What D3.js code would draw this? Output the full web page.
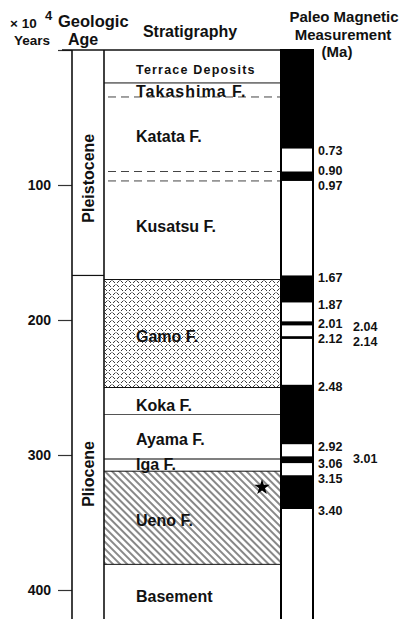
<!DOCTYPE html>
<html>
<head>
    <meta charset="utf-8" />
    <title>Stratigraphy column</title>
    <script src="https://cdn.jsdelivr.net/npm/d3@7"></script>
    <style>
        body { margin: 0; background: #fff; }
        text { font-family: "Liberation Sans", Arial, sans-serif; font-weight: bold; fill: #111; }
    </style>
</head>
<body>
<script>
    // axis ticks (x 10^4 years)
    var yearTicks = [0, 100, 200, 300, 400];

    // geologic age
    var epochs = ["Pleistocene", "Pliocene"];
    var epochTop = [0, 1.67];
    var epochBase = [1.67, 4.3];
    var epochLabelAt = [0.95, 3.14];

    // stratigraphy (Ma)
    var formations = ["Terrace Deposits", "Takashima F.", "Katata F.", "Kusatsu F.", "Gamo F.",
                      "Koka F.", "Ayama F.", "Iga  F.", "Ueno  F.", "Basement"];
    var formationTop = [0, 0.244, 0.348, 0.97, 1.70, 2.50, 2.70, 3.03, 3.12, 3.81];
    var formationBase = [0.244, 0.348, 0.90, 1.70, 2.50, 2.70, 3.03, 3.12, 3.81, 4.3];
    var formationLabelAt = [0.178, 0.348, 0.679, 1.346, 2.161, 2.672, 2.926, 3.111, 3.524, 4.089];
    var formationFill = ["none", "none", "none", "none", "gamo", "none", "none", "none", "ueno", "none"];
    var dashedAt = [0.348, 0.90, 0.97];
    var starAt = 3.24;

    // paleomagnetic polarity, normal (black) intervals (Ma)
    var normalTop = [0, 0.90, 1.67, 2.01, 2.12, 2.48, 3.01, 3.15];
    var normalBase = [0.73, 0.97, 1.87, 2.04, 2.14, 2.92, 3.06, 3.40];
    var magLabels = [0.73, 0.90, 0.97, 1.67, 1.87, 2.01, 2.04, 2.12, 2.14, 2.48, 2.92, 3.01, 3.06, 3.15, 3.40];
    var magLabelOuter = [0, 0, 0, 0, 0, 0, 1, 0, 1, 0, 0, 1, 0, 0, 0];

    var width = 406, height = 619;
    var ageX0 = 72, ageX1 = 104, stratX1 = 281, magX1 = 313;

    var y = d3.scaleLinear().domain([0, 400]).range([50, 590]);
    function ma(v) { return y(v * 100); }

    var svg = d3.select("body").append("svg")
        .attr("width", width)
        .attr("height", height);

    var defs = svg.append("defs");

    var gamo = defs.append("pattern")
        .attr("id", "gamo")
        .attr("patternUnits", "userSpaceOnUse")
        .attr("width", 8).attr("height", 8);
    gamo.append("path")
        .attr("d", "M0.5,0.5 L3,3 M5,3 L7.5,0.5 M4.5,4.5 L7,7 M1,7 L3.5,4.5")
        .attr("stroke", "#222").attr("stroke-width", 0.9).attr("fill", "none");

    var ueno = defs.append("pattern")
        .attr("id", "ueno")
        .attr("patternUnits", "userSpaceOnUse")
        .attr("width", 5).attr("height", 10)
        .attr("patternTransform", "rotate(-45)");
    ueno.append("line")
        .attr("x1", 1).attr("y1", 0).attr("x2", 1).attr("y2", 10)
        .attr("stroke", "#111").attr("stroke-width", 1);

    // headers
    svg.append("text").attr("x", 10).attr("y", 28).style("font-size", "13.5px").text("\u00d7 10");
    svg.append("text").attr("x", 45).attr("y", 20).style("font-size", "13px").text("4");
    svg.append("text").attr("x", 14).attr("y", 45).style("font-size", "13.5px").text("Years");
    svg.append("text").attr("x", 58).attr("y", 27).style("font-size", "16.5px").text("Geologic");
    svg.append("text").attr("x", 68).attr("y", 45).style("font-size", "16px").text("Age");
    svg.append("text").attr("x", 190).attr("y", 37).attr("text-anchor", "middle")
        .style("font-size", "16px").text("Stratigraphy");
    svg.append("text").attr("x", 344).attr("y", 22).attr("text-anchor", "middle")
        .style("font-size", "15px").text("Paleo Magnetic");
    svg.append("text").attr("x", 343).attr("y", 39.5).attr("text-anchor", "middle")
        .style("font-size", "15px").text("Measurement");
    svg.append("text").attr("x", 337).attr("y", 57).attr("text-anchor", "middle")
        .style("font-size", "15px").text("(Ma)");

    // axis
    var axis = d3.axisLeft(y)
        .tickValues(yearTicks)
        .tickSize(14)
        .tickPadding(7)
        .tickFormat(function(d) { return d === 0 ? "" : d; });
    var ag = svg.append("g")
        .attr("transform", "translate(" + ageX0 + ",0)")
        .call(axis);
    ag.select(".domain").remove();
    ag.selectAll(".tick line").attr("stroke", "#333").attr("stroke-width", 1.2);
    ag.selectAll(".tick text")
        .style("font-size", "14px")
        .style("font-family", "'Liberation Sans', Arial, sans-serif")
        .style("font-weight", "bold")
        .attr("fill", "#111");

    // geologic age column
    svg.selectAll("line.epoch")
        .data(epochTop.slice(1))
        .enter().append("line")
        .attr("class", "epoch")
        .attr("x1", ageX0).attr("x2", ageX1)
        .attr("y1", function(d) { return ma(d); })
        .attr("y2", function(d) { return ma(d); })
        .attr("stroke", "#111").attr("stroke-width", 1.2);

    svg.selectAll("text.epoch")
        .data(epochs)
        .enter().append("text")
        .attr("class", "epoch")
        .attr("text-anchor", "middle")
        .attr("dominant-baseline", "central")
        .attr("transform", function(d, i) {
            return "translate(" + (ageX0 + ageX1) / 2 + "," + ma(epochLabelAt[i]) + ") rotate(-90)";
        })
        .style("font-size", "16px")
        .text(function(d) { return d; });

    // stratigraphy fills
    svg.selectAll("rect.formation")
        .data(formations)
        .enter().append("rect")
        .attr("class", "formation")
        .attr("x", ageX1)
        .attr("width", stratX1 - ageX1)
        .attr("y", function(d, i) { return ma(formationTop[i]); })
        .attr("height", function(d, i) { return ma(formationBase[i]) - ma(formationTop[i]); })
        .attr("fill", function(d, i) {
            return formationFill[i] === "none" ? "none" : "url(#" + formationFill[i] + ")";
        });

    // solid boundaries
    var solidBounds = formationBase.filter(function(d, i) {
        return i < formationBase.length - 1 && dashedAt.indexOf(d) < 0;
    });
    svg.selectAll("line.bound")
        .data(solidBounds)
        .enter().append("line")
        .attr("class", "bound")
        .attr("x1", ageX1).attr("x2", stratX1)
        .attr("y1", function(d) { return ma(d); })
        .attr("y2", function(d) { return ma(d); })
        .attr("stroke", function(d) { return d === 2.70 || d === 3.03 ? "#555" : "#111"; })
        .attr("stroke-width", function(d) { return d === 3.03 ? 1.6 : 1; });

    svg.selectAll("line.dash")
        .data(dashedAt)
        .enter().append("line")
        .attr("class", "dash")
        .attr("x1", ageX1 + 4).attr("x2", stratX1)
        .attr("y1", function(d) { return ma(d); })
        .attr("y2", function(d) { return ma(d); })
        .attr("stroke", "#444").attr("stroke-width", 1)
        .attr("stroke-dasharray", "8,5");

    svg.selectAll("text.formation")
        .data(formations)
        .enter().append("text")
        .attr("class", "formation")
        .attr("x", 136)
        .attr("y", function(d, i) { return ma(formationLabelAt[i]); })
        .style("font-size", function(d, i) { return i === 0 ? "12.5px" : "16px"; })
        .style("letter-spacing", function(d, i) { return i === 0 ? "1.2px" : (i === 1 ? "1px" : "0px"); })
        .text(function(d) { return d; });

    svg.append("path")
        .attr("d", d3.symbol(d3.symbolStar).size(75)())
        .attr("transform", "translate(262," + ma(starAt) + ")")
        .attr("fill", "#000");

    // column frame
    svg.append("line").attr("x1", ageX0 - 10).attr("x2", stratX1).attr("y1", ma(0)).attr("y2", ma(0))
        .attr("stroke", "#111").attr("stroke-width", 1.5);
    [ageX0, ageX1, stratX1].forEach(function(x) {
        svg.append("line").attr("x1", x).attr("x2", x).attr("y1", ma(0)).attr("y2", height)
            .attr("stroke", "#111").attr("stroke-width", 1.6);
    });

    // paleomagnetic column
    svg.append("rect")
        .attr("x", stratX1).attr("y", ma(0))
        .attr("width", magX1 - stratX1).attr("height", height - ma(0) + 5)
        .attr("fill", "#fff").attr("stroke", "#000").attr("stroke-width", 2);

    svg.selectAll("rect.normal")
        .data(normalTop)
        .enter().append("rect")
        .attr("class", "normal")
        .attr("x", stratX1).attr("width", magX1 - stratX1)
        .attr("y", function(d) { return ma(d); })
        .attr("height", function(d, i) { return ma(normalBase[i]) - ma(d); })
        .attr("fill", "#000");

    // label positions: spread apart labels that sit too close in the same column
    var magPos = magLabels.map(function(d) { return ma(d) + 2; });
    var gap = 14.5;
    [0, 1].forEach(function(side) {
        var idx = d3.range(magLabels.length).filter(function(i) { return magLabelOuter[i] === side; });
        for (var k = 1; k < idx.length; k++) {
            var a = idx[k - 1], b = idx[k];
            var diff = magPos[b] - magPos[a];
            if (diff < gap) {
                magPos[a] -= (gap - diff) / 2;
                magPos[b] += (gap - diff) / 2;
            }
        }
    });

    svg.selectAll("text.mag")
        .data(magLabels)
        .enter().append("text")
        .attr("class", "mag")
        .attr("x", function(d, i) { return magLabelOuter[i] ? 353 : 318; })
        .attr("y", function(d, i) { return magPos[i]; })
        .attr("dy", "0.35em")
        .style("font-size", "12.5px")
        .text(function(d) { return d.toFixed(2); });
</script>
</body>
</html>
